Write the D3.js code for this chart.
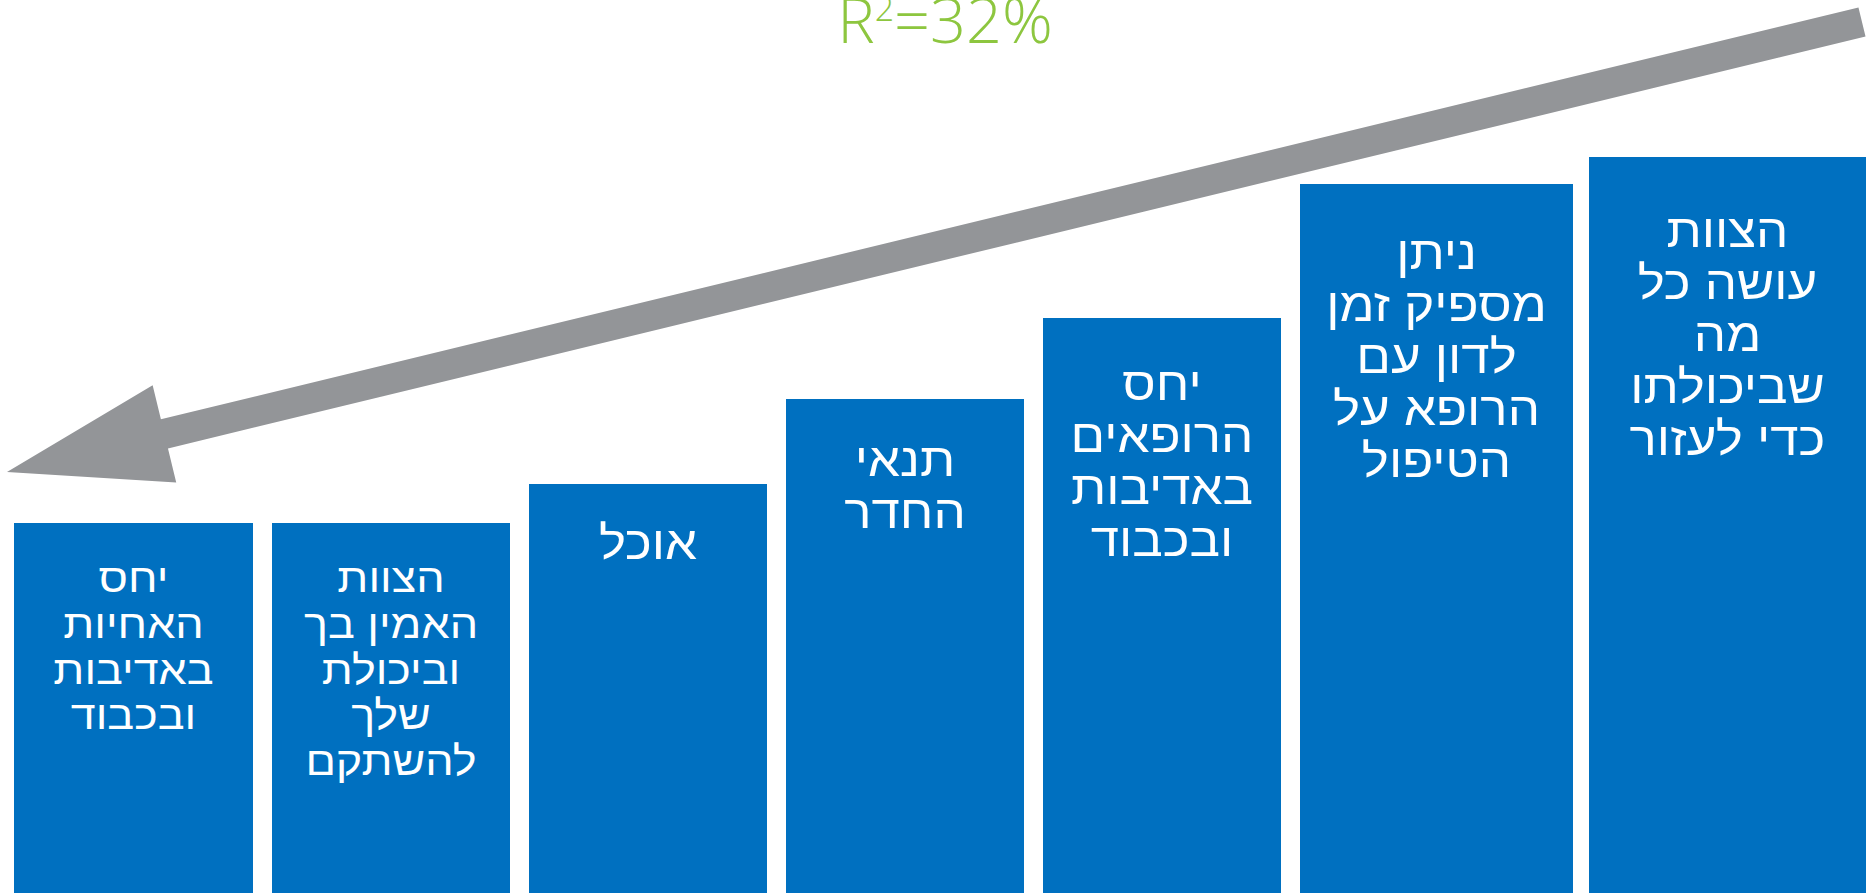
<!DOCTYPE html>
<html lang="he">
<head>
<meta charset="utf-8">
<script src="https://cdn.jsdelivr.net/npm/d3@7"></script>
<style>
  html, body { margin: 0; padding: 0; background: #fff; overflow: hidden; }
  svg { display: block; }
  .bar-label { fill: #fff; font-family: "Liberation Sans", "Open Sans", sans-serif; font-weight: 400; }
  .r2 { fill: #8dc63f; font-family: "Open Sans", "Liberation Sans", sans-serif; font-weight: 300; }
</style>
</head>
<body>
<svg id="chart"></svg>
<script>
// bar labels, left to right as drawn (one entry per text line)
var labels = [
  ['יחס', 'האחיות', 'באדיבות', 'ובכבוד'],
  ['הצוות', 'האמין בך', 'וביכולת', 'שלך', 'להשתקם'],
  ['אוכל'],
  ['תנאי', 'החדר'],
  ['יחס', 'הרופאים', 'באדיבות', 'ובכבוד'],
  ['ניתן', 'מספיק זמן', 'לדון עם', 'הרופא על', 'הטיפול'],
  ['הצוות', 'עושה כל', 'מה', 'שביכולתו', 'כדי לעזור']
];

// relative importance (bar heights)
var values = [37.0, 37.0, 40.9, 49.4, 57.5, 70.9, 73.6];

// trend arrow level at its left (head) and right (tail) ends
var trendLevels = [42.1, 87.1];
var trendLabel = ['R', '2', '=32%'];

var width = 1868,
    height = 893;

// layout: bar lefts / widths are not uniform in the original
var barLefts = [14, 272, 529, 786, 1043, 1300, 1589],
    barWidths = [239, 238, 238, 238, 238, 273, 277],
    labelOffsets = [69, 69, 75, 77, 82, 85, 90], // first baseline below bar top
    labelScale = [0.88, 0.88, 1, 1, 1, 1, 1];

var fontSize = 46,
    lineStep = 52,
    stretch = 1.11; // the original face is a bit wider

var svg = d3.select('#chart')
  .attr('width', width)
  .attr('height', height);

var idx = d3.range(values.length);

var xLeft = d3.scaleOrdinal().domain(idx).range(barLefts),
    xWidth = d3.scaleOrdinal().domain(idx).range(barWidths),
    y = d3.scaleLinear().domain([0, 80]).range([height, height - 800]);

// bars
svg.append('g')
  .selectAll('rect')
  .data(idx)
  .join('rect')
    .attr('x', function (i) { return xLeft(i); })
    .attr('y', function (i) { return y(values[i]); })
    .attr('width', function (i) { return xWidth(i); })
    .attr('height', function (i) { return height - y(values[i]) + 2; })
    .attr('fill', '#0070c0');

// labels inside bars
var lab = svg.append('g')
  .selectAll('g')
  .data(idx)
  .join('g')
    .attr('transform', function (i) {
      return 'translate(' + (xLeft(i) + xWidth(i) / 2) + ',' +
        (y(values[i]) + labelOffsets[i]) + ') scale(' + stretch + ',1)';
    })
  .append('text')
    .attr('class', 'bar-label')
    .attr('direction', 'rtl')
    .attr('text-anchor', 'middle')
    .attr('font-size', function (i) { return fontSize * labelScale[i]; });

lab.selectAll('tspan')
  .data(function (i) {
    return labels[i].map(function (t, k) { return {t: t, k: k, i: i}; });
  })
  .join('tspan')
    .attr('x', 0)
    .attr('dy', function (d) { return d.k ? lineStep * labelScale[d.i] : 0; })
    .text(function (d) { return d.t; });

// trend arrow, pointing down to the left
var xTrend = d3.scaleLinear().domain([0, 1]).range([7, 1862]);

function arrowPath(tip, tail, shaftHalf, headLen, headHalf) {
  var dx = tip[0] - tail[0], dy = tip[1] - tail[1],
      len = Math.sqrt(dx * dx + dy * dy),
      ux = dx / len, uy = dy / len,
      nx = -uy, ny = ux,
      neck = [tip[0] - ux * headLen, tip[1] - uy * headLen];
  var pts = [
    [tail[0] + nx * shaftHalf, tail[1] + ny * shaftHalf],
    [neck[0] + nx * shaftHalf, neck[1] + ny * shaftHalf],
    [neck[0] + nx * headHalf, neck[1] + ny * headHalf],
    tip,
    [neck[0] - nx * headHalf, neck[1] - ny * headHalf],
    [neck[0] - nx * shaftHalf, neck[1] - ny * shaftHalf],
    [tail[0] - nx * shaftHalf, tail[1] - ny * shaftHalf]
  ];
  return d3.line()(pts) + 'Z';
}

svg.append('path')
  .attr('d', arrowPath(
    [xTrend(0), y(trendLevels[0])],
    [xTrend(1), y(trendLevels[1])],
    15, 162, 50))
  .attr('fill', '#939598');

// R squared label
var r2 = svg.append('text')
  .attr('class', 'r2')
  .attr('text-anchor', 'middle')
  .attr('x', 945)
  .attr('y', 43)
  .attr('font-size', 63);

r2.append('tspan').text(trendLabel[0]);
r2.append('tspan').attr('font-size', 34).attr('dy', -22).text(trendLabel[1]);
r2.append('tspan').attr('dy', 22).text(trendLabel[2]);
</script>
</body>
</html>
